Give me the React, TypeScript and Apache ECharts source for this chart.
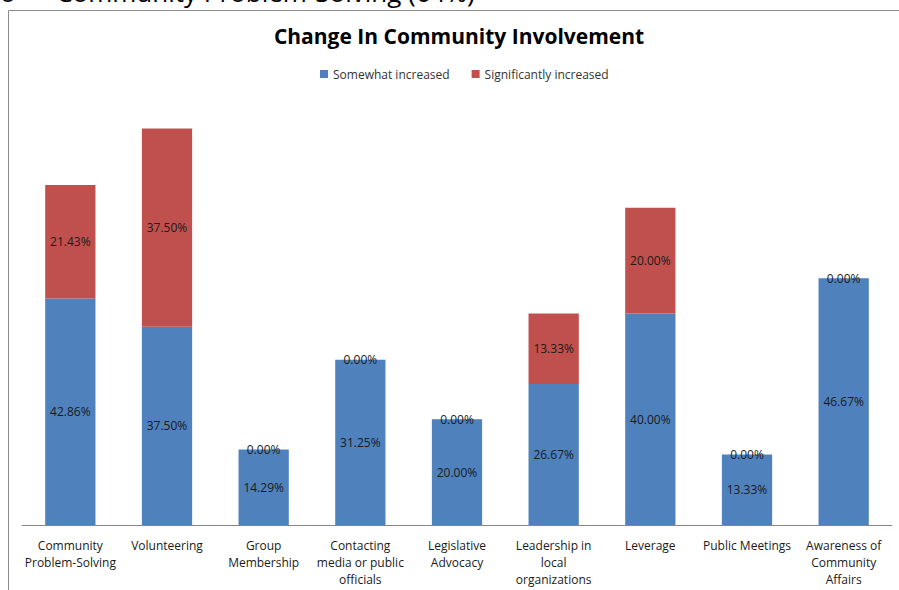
import React, { useEffect, useRef } from "react";
import * as echarts from "echarts";

const categories = [
  "Community\nProblem-Solving",
  "Volunteering",
  "Group\nMembership",
  "Contacting\nmedia or public\nofficials",
  "Legislative\nAdvocacy",
  "Leadership in\nlocal\norganizations",
  "Leverage",
  "Public Meetings",
  "Awareness of\nCommunity\nAffairs",
];
const somewhatIncreased = [42.86, 37.5, 14.29, 31.25, 20.0, 26.67, 40.0, 13.33, 46.67];
const significantlyIncreased = [21.43, 37.5, 0, 0, 0, 13.33, 20.0, 0, 0];
const seriesNames = ["Somewhat increased", "Significantly increased"];
const titleText = "Change In Community Involvement";
const headingText = "o      Community Problem-Solving (64%)";

const FONT = "'Open Sans', 'Liberation Sans', sans-serif";

export default function App() {
  const ref = useRef<HTMLDivElement>(null);
  useEffect(() => {
    if (!ref.current) return;
    const chart = echarts.init(ref.current, undefined, { renderer: "svg" });
    const label = {
      show: true,
      position: "inside" as const,
      color: "#1a1a1a",
      fontFamily: FONT,
      fontSize: 12,
      formatter: (p: any) => Number(p.value).toFixed(2) + "%",
    };
    chart.setOption({
      animation: false,
      backgroundColor: "#ffffff",
      textStyle: { fontFamily: FONT },
      title: {
        text: titleText,
        left: 454,
        textAlign: "center",
        top: 20,
        textStyle: { fontFamily: FONT, fontSize: 21, fontWeight: "bold", color: "#000" },
      },
      legend: {
        data: seriesNames,
        top: 63,
        left: 315,
        itemWidth: 8,
        itemHeight: 8,
        itemGap: 22,
        icon: "rect",
        textStyle: { fontFamily: FONT, fontSize: 12, color: "#333" },
      },
      graphic: [
        {
          type: "rect",
          shape: { x: 8.5, y: 10.5, width: 1000, height: 700 },
          style: { fill: "none", stroke: "#8c8c8c", lineWidth: 1 },
          z: -1,
        },
        {
          type: "text",
          x: 0,
          y: 5,
          style: {
            text: headingText,
            fontFamily: FONT,
            fontSize: 26,
            fill: "#000",
            verticalAlign: "bottom",
          },
        },
      ],
      grid: { left: 22, right: 7, top: 102, bottom: 65 },
      xAxis: {
        type: "category",
        data: categories,
        axisLine: { lineStyle: { color: "#868686" } },
        axisTick: { show: false },
        axisLabel: {
          interval: 0,
          color: "#1a1a1a",
          fontFamily: FONT,
          fontSize: 12,
          lineHeight: 17,
          margin: 12,
        },
      },
      yAxis: {
        type: "value",
        min: 0,
        max: 80,
        show: false,
        splitLine: { show: false },
      },
      series: [
        {
          name: seriesNames[0],
          type: "bar",
          stack: "total",
          barWidth: "52%",
          data: somewhatIncreased,
          itemStyle: { color: "#4F81BD" },
          label,
        },
        {
          name: seriesNames[1],
          type: "bar",
          stack: "total",
          barWidth: "52%",
          data: significantlyIncreased,
          itemStyle: { color: "#C0504D" },
          label,
        },
      ],
    });
    return () => chart.dispose();
  }, []);
  return (
    <div
      ref={ref}
      style={{ position: "fixed", left: 0, top: 0, width: 899, height: 590 }}
    />
  );
}
